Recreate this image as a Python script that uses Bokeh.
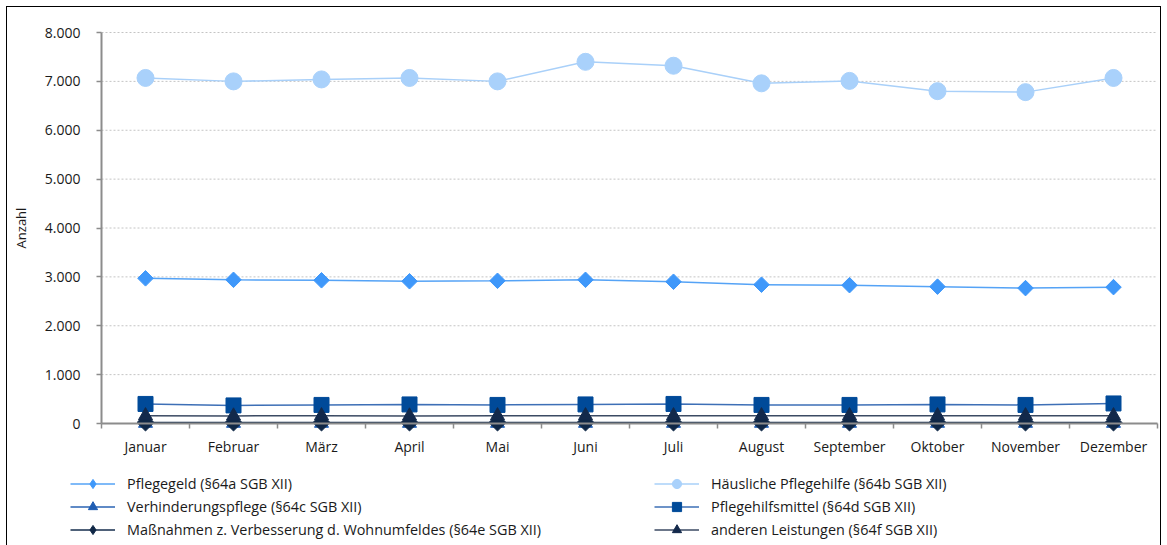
import numpy as np
from bokeh.plotting import figure
from bokeh.models import (FixedTicker, Range1d, Legend, LegendItem,
                          ColumnDataSource)
from bokeh.embed import file_html
from bokeh.resources import INLINE

months = ["Januar", "Februar", "März", "April", "Mai", "Juni", "Juli",
          "August", "September", "Oktober", "November", "Dezember"]

pflegegeld = [2970, 2940, 2930, 2910, 2920, 2940, 2900, 2840, 2830, 2800, 2770, 2790]
haeusliche = [7070, 7000, 7040, 7070, 7000, 7400, 7320, 6960, 7010, 6800, 6780, 7070]
verhinderung = [5, 5, 5, 5, 5, 5, 5, 5, 5, 5, 5, 5]
hilfsmittel = [400, 370, 380, 390, 380, 390, 400, 380, 380, 390, 380, 410]
massnahmen = [20, 20, 20, 20, 20, 20, 20, 20, 20, 20, 20, 20]
andere = [160, 155, 160, 155, 160, 160, 160, 160, 160, 160, 160, 160]

names = ["Pflegegeld (§64a SGB XII)", "Häusliche Pflegehilfe (§64b SGB XII)",
         "Verhinderungspflege (§64c SGB XII)", "Pflegehilfsmittel (§64d SGB XII)",
         "Maßnahmen z. Verbesserung d. Wohnumfeldes (§64e SGB XII)",
         "anderen Leistungen (§64f SGB XII)"]

y_ticks = [0, 1000, 2000, 3000, 4000, 5000, 6000, 7000, 8000]

FONT = "Open Sans"
n = len(months)
x = [i + 0.5 for i in range(n)]
Y_MAX = y_ticks[-1]

# ---- layout (pixels, in figure coordinates) ----
W, H = 1153, 538
AX_LEFT, AX_RIGHT = 94, 1150     # plot area left/right
AX_TOP, AX_ZERO = 25, 416        # top (max value) and zero line
ppx = (AX_RIGHT - AX_LEFT) / n
ppy = (AX_ZERO - AX_TOP) / Y_MAX
x_range = Range1d(-AX_LEFT / ppx, n + (W - AX_RIGHT) / ppx)
y_range = Range1d(-(H - AX_ZERO) / ppy, Y_MAX + AX_TOP / ppy)

p = figure(width=W, height=H, output_backend="svg", toolbar_location=None,
           x_range=x_range, y_range=y_range, min_border=0,
           min_border_left=0, min_border_right=0, min_border_top=0,
           min_border_bottom=0)
p.styles = {"outline": "1px solid #000000", "margin-left": "7px",
            "margin-top": "7px"}
p.outline_line_color = None
p.xgrid.visible = False
p.ygrid.visible = False

# horizontal dashed grid lines between the axis bounds
p.segment(x0=[0] * (len(y_ticks) - 1), x1=[n] * (len(y_ticks) - 1),
          y0=y_ticks[1:], y1=y_ticks[1:], line_color="#c4c4c4",
          line_dash="2 2", line_width=1)

# y axis
ya = p.yaxis[0]
ya.fixed_location = 0
ya.bounds = (0, Y_MAX)
ya.ticker = FixedTicker(ticks=y_ticks)
ya.major_label_overrides = {v: f"{v:,}".replace(",", ".") for v in y_ticks}
ya.axis_line_color = "#8c8c8c"
ya.axis_line_width = 2
ya.major_tick_line_color = "#8c8c8c"
ya.major_tick_line_width = 1.5
ya.major_tick_out = 5
ya.major_tick_in = 0
ya.minor_tick_line_color = None
ya.major_label_text_font = FONT
ya.major_label_text_font_size = "14px"
ya.major_label_text_color = "#1a1a1a"
ya.major_label_standoff = 16
ya.axis_label = "Anzahl"
ya.axis_label_text_font = FONT
ya.axis_label_text_font_size = "13px"
ya.axis_label_text_font_style = "normal"
ya.axis_label_text_color = "#1a1a1a"
ya.axis_label_standoff = 12

# x axis
xa = p.xaxis[0]
xa.fixed_location = 0
xa.bounds = (0, n)
xa.ticker = FixedTicker(ticks=x, minor_ticks=list(range(n + 1)))
xa.major_label_overrides = {xi: m for xi, m in zip(x, months)}
xa.axis_line_color = "#8c8c8c"
xa.axis_line_width = 2
xa.major_tick_line_color = None
xa.major_tick_out = 0
xa.major_tick_in = 0
xa.minor_tick_line_color = "#8c8c8c"
xa.minor_tick_line_width = 1.5
xa.minor_tick_out = 5
xa.minor_tick_in = 0
xa.major_label_text_font = FONT
xa.major_label_text_font_size = "14px"
xa.major_label_text_color = "#1a1a1a"
xa.major_label_standoff = 8

# values, line colour, marker colour, marker, size, angle, legend marker
series = [
    (pflegegeld, "#55a3f6", "#3f98fa", "square", 11, np.pi / 4, "diamond"),
    (haeusliche, "#a9d0f9", "#a9d1fb", "circle", 17, 0, None),
    (verhinderung, "#2a63b3", "#1f5db3", "triangle", 14, 0, None),
    (hilfsmittel, "#3d6fb6", "#004a99", "square", 15, 0, None),
    (massnahmen, "#152c4c", "#0f2746", "square", 12, np.pi / 4, "diamond"),
    (andere, "#3b4a63", "#13294b", "triangle", 14, 0, None),
]

items = []
lines = []
for vals, lc, mc, marker, size, ang, lmark in series:
    src = ColumnDataSource(dict(x=x, y=vals))
    r1 = p.line("x", "y", source=src, line_color=lc, line_width=1.5)
    lines.append((r1, src, mc, marker, size, ang, lmark))

for name, (r1, src, mc, marker, size, ang, lmark) in zip(names, lines):
    rs = [r1]
    if lmark is not None:
        # small diamond hidden under the rotated square; used for the legend symbol
        rd = p.scatter("x", "y", source=src, marker=lmark, size=size * 0.8,
                       fill_color=mc, line_color=mc)
        rs.append(rd)
    r2 = p.scatter("x", "y", source=src, marker=marker, size=size, angle=ang,
                   fill_color=mc, line_color=mc)
    if lmark is None:
        rs.append(r2)
    items.append(LegendItem(label=name, renderers=rs))

legend = Legend(items=items, orientation="horizontal", ncols=2,
                location=(63, 4), padding=0, spacing=0, margin=0,
                glyph_width=45, glyph_height=23, label_height=23,
                label_width=527, label_standoff=12,
                label_text_font=FONT, label_text_font_size="14.4px",
                label_text_color="#1a1a1a",
                border_line_color=None, background_fill_alpha=0)
p.add_layout(legend, "center")

open("out.html", "w").write(file_html(p, INLINE))
